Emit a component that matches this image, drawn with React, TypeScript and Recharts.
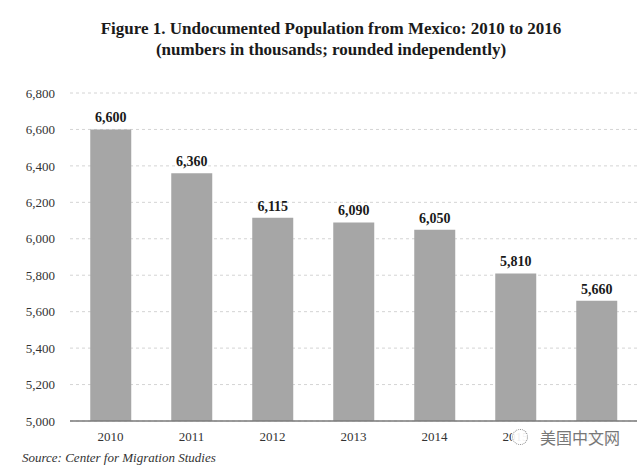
import { BarChart, Bar, XAxis, YAxis, CartesianGrid, LabelList } from "recharts";

const years = ["2010", "2011", "2012", "2013", "2014", "2015", "2016"];
const population = [6600, 6360, 6115, 6090, 6050, 5810, 5660];
const yTicks = [5000, 5200, 5400, 5600, 5800, 6000, 6200, 6400, 6600, 6800];

const data = years.map((year, i) => ({ year, value: population[i] }));

const serif = '"Liberation Serif", "Times New Roman", serif';
const fmt = (v: number) => v.toLocaleString("en-US");

export default function App() {
  return (
    <div
      style={{
        position: "absolute",
        left: 0,
        top: 0,
        width: 640,
        height: 465,
        background: "#fff",
        fontFamily: serif,
      }}
    >
      <div
        style={{
          position: "absolute",
          left: 0,
          top: 18,
          width: 662,
          textAlign: "center",
          fontWeight: "bold",
          fontSize: 17,
          lineHeight: "21px",
          color: "#1a1a1a",
        }}
      >
        Figure 1. Undocumented Population from Mexico: 2010 to 2016
        <br />
        (numbers in thousands; rounded independently)
      </div>

      <BarChart
        width={640}
        height={465}
        data={data}
        margin={{ top: 93, right: 3, bottom: 14, left: 0 }}
        barCategoryGap="25%"
      >
        <CartesianGrid vertical={false} stroke="#d4d4d4" strokeDasharray="3 3" />
        <XAxis
          dataKey="year"
          height={30}
          tickLine={false}
          tickSize={0}
          tickMargin={11}
          axisLine={{ stroke: "#7a7a7a", strokeWidth: 1.5 }}
          tick={{ fill: "#333", fontSize: 13, fontFamily: serif }}
        />
        <YAxis
          width={70}
          domain={[5000, 6800]}
          ticks={yTicks}
          tickFormatter={fmt}
          axisLine={false}
          tickLine={false}
          tickSize={0}
          tickMargin={15}
          tick={{ fill: "#333", fontSize: 13, fontFamily: serif }}
        />
        <Bar dataKey="value" fill="#a6a6a6" isAnimationActive={false}>
          <LabelList
            dataKey="value"
            position="top"
            offset={7}
            formatter={(v: any) => fmt(Number(v))}
            style={{ fontWeight: "bold", fontSize: 14, fontFamily: serif, fill: "#1a1a1a" }}
          />
        </Bar>
      </BarChart>

      <div
        style={{
          position: "absolute",
          left: 22,
          top: 450,
          fontStyle: "italic",
          fontSize: 13,
          color: "#333",
        }}
      >
        Source: Center for Migration Studies
      </div>

      <div
        style={{
          position: "absolute",
          left: 512,
          top: 427,
          height: 20,
          display: "flex",
          alignItems: "center",
          background: "rgba(255,255,255,0.92)",
          paddingRight: 4,
          color: "#777",
          fontFamily: '"Noto Sans CJK SC", sans-serif',
          fontSize: 16,
        }}
      >
        <span
          style={{
            display: "inline-block",
            width: 14,
            height: 14,
            border: "1px dotted #888",
            borderRadius: "50%",
            marginRight: 12,
          }}
        />
        美国中文网
      </div>
    </div>
  );
}
